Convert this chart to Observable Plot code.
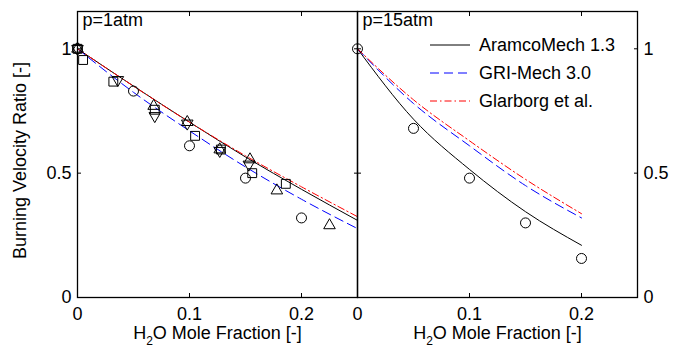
<!DOCTYPE html>
<html><head><meta charset="utf-8">
<script src="https://cdn.jsdelivr.net/npm/d3@7"></script>
<script src="https://cdn.jsdelivr.net/npm/@observablehq/plot@0.6"></script>
<style>body{margin:0;background:#fff} #chart{width:673px;height:356px}</style>
</head><body><div id="chart"></div>
<script>
// ---- data ----
const panels = ["1atm", "15atm"];
const panelTitles = ["p=1atm", "p=15atm"];
const xTicks = [0, 0.1, 0.2];
const yTicks = [0, 0.5, 1];
const xLabel = "H2O Mole Fraction [-]";
const yLabel = "Burning Velocity Ratio [-]";
const modelNames = ["AramcoMech 1.3", "GRI-Mech 3.0", "Glarborg et al."];

// experiments, p = 1 atm
const circ1X = [0, 0.05, 0.1, 0.15, 0.2];
const circ1Y = [1, 0.83, 0.61, 0.48, 0.32];
const sq1X = [0, 0.005, 0.032, 0.069, 0.105, 0.128, 0.156, 0.186];
const sq1Y = [1, 0.955, 0.868, 0.755, 0.65, 0.595, 0.50, 0.457];
const triUp1X = [0, 0.068, 0.098, 0.127, 0.154, 0.178, 0.225];
const triUp1Y = [1, 0.77, 0.705, 0.595, 0.555, 0.43, 0.29];
const triDn1X = [0, 0.036, 0.069, 0.098, 0.127, 0.153];
const triDn1Y = [1, 0.875, 0.73, 0.70, 0.59, 0.535];
// experiments, p = 15 atm
const circ15X = [0, 0.05, 0.1, 0.15, 0.2];
const circ15Y = [1, 0.68, 0.48, 0.30, 0.157];

// models, p = 1 atm
const model1X = [0, 0.05, 0.1, 0.15, 0.2, 0.25];
const aramco1 = [1, 0.85, 0.705, 0.565, 0.435, 0.31];
const gri1 = [1, 0.825, 0.67, 0.525, 0.395, 0.277];
const glar1 = [1, 0.85, 0.705, 0.57, 0.445, 0.325];
// models, p = 15 atm
const model15X = [0, 0.05, 0.1, 0.15, 0.2];
const aramco15 = [1, 0.717, 0.515, 0.345, 0.21];
const gri15 = [1, 0.78, 0.61, 0.45, 0.32];
const glar15 = [1, 0.795, 0.63, 0.475, 0.337];

// ---- styles ----
const font = "'Liberation Sans', Arial, Helvetica, sans-serif";
const modelStyles = [
  {stroke: "black", strokeDasharray: null},
  {stroke: "#0000ff", strokeDasharray: "9,5"},
  {stroke: "#ff0000", strokeDasharray: "7,3,1.5,3"}
];

const rows = (p, xs, ys) => xs.map((x, i) => ({p, x, y: ys[i]}));
const modelRows = [
  [...rows(panels[0], model1X, aramco1), ...rows(panels[1], model15X, aramco15)],
  [...rows(panels[0], model1X, gri1), ...rows(panels[1], model15X, gri15)],
  [...rows(panels[0], model1X, glar1), ...rows(panels[1], model15X, glar15)]
];
const circRows = [...rows(panels[0], circ1X, circ1Y), ...rows(panels[1], circ15X, circ15Y)];
const sqRows = rows(panels[0], sq1X, sq1Y);
const upRows = rows(panels[0], triUp1X, triUp1Y);
const dnRows = rows(panels[0], triDn1X, triDn1Y);

const titleRows = panels.map((p, i) => ({p, t: panelTitles[i]}));
const xLabelRows = panels.map(p => ({p, t: xLabel}));
const yLabelRows = [{p: panels[0], t: yLabel}];

const fmt = d => String(d);
const blank = () => "";
const fs = 18;

const chart = Plot.plot({
  width: 673, height: 356,
  marginLeft: 77, marginRight: 36, marginTop: 11, marginBottom: 59,
  style: {fontFamily: font, fontSize: fs + "px", color: "black", background: "white", overflow: "visible"},
  fx: {domain: panels, padding: 0, axis: null, label: null},
  x: {domain: [0, 0.25], label: null},
  y: {domain: [0, 1.15], label: null},
  marks: [
    ...modelRows.map((d, i) => Plot.line(d, {fx: "p", x: "x", y: "y", curve: "monotone-x",
      stroke: modelStyles[i].stroke, strokeDasharray: modelStyles[i].strokeDasharray, strokeWidth: 1})),
    Plot.dot(circRows, {fx: "p", x: "x", y: "y", symbol: "circle", r: 5, stroke: "black", fill: "none", strokeWidth: 1}),
    Plot.dot(sqRows, {fx: "p", x: "x", y: "y", symbol: "square", r: 5, stroke: "black", fill: "none", strokeWidth: 1}),
    Plot.dot(upRows, {fx: "p", x: "x", y: "y", symbol: "triangle", r: 4.3, stroke: "black", fill: "none", strokeWidth: 1}),
    Plot.dot(dnRows, {fx: "p", x: "x", y: "y", symbol: "triangle", rotate: 180, r: 4.3, stroke: "black", fill: "none", strokeWidth: 1}),
    Plot.frame({stroke: "black", strokeWidth: 1.3}),
    Plot.axisX({anchor: "bottom", ticks: xTicks, tickSize: -4, tickPadding: 14, tickFormat: fmt, label: null, fontSize: fs}),
    Plot.axisX({anchor: "top", ticks: xTicks, tickSize: -4, tickFormat: blank, label: null}),
    Plot.axisY({anchor: "left", ticks: yTicks, tickSize: -4, tickPadding: 10, tickFormat: fmt, label: null, fontSize: fs}),
    Plot.axisY({anchor: "right", ticks: yTicks, tickSize: -4, tickPadding: 10, tickFormat: fmt, label: null, fontSize: fs}),
    Plot.axisY({anchor: "right", facetAnchor: "left", ticks: yTicks, tickSize: -4, tickFormat: blank, label: null}),
    Plot.axisY({anchor: "left", facetAnchor: "right", ticks: yTicks, tickSize: -4, tickFormat: blank, label: null}),
    Plot.text(titleRows, {fx: "p", text: "t", frameAnchor: "top-left", dx: 5, dy: 2, textAnchor: "start", lineAnchor: "top", fontSize: fs}),
    Plot.text(xLabelRows, {fx: "p", text: "t", frameAnchor: "bottom", dy: 36, textAnchor: "middle", lineAnchor: "middle", fontSize: fs}),
    Plot.text(yLabelRows, {fx: "p", text: "t", frameAnchor: "left", dx: -57, dy: 6, rotate: -90, textAnchor: "middle", lineAnchor: "middle", fontSize: fs})
  ]
});

document.getElementById("chart").appendChild(chart);

// subscript in x labels
const svg = d3.select(chart.tagName.toLowerCase() === "svg" ? chart : chart.querySelector("svg"));
svg.selectAll("text").filter(function() { return this.textContent === xLabel; }).each(function() {
  const t = d3.select(this);
  t.text(null);
  t.append("tspan").text("H");
  t.append("tspan").attr("font-size", "12px").attr("dy", 6).text("2");
  t.append("tspan").attr("dy", -6).text("O Mole Fraction [-]");
});

// legend inside the right panel
const lg = svg.append("g").attr("font-family", font).attr("font-size", fs).attr("text-anchor", "start");
modelNames.forEach((name, i) => {
  const y = 45 + i * 28;
  lg.append("line").attr("x1", 430).attr("x2", 470).attr("y1", y).attr("y2", y)
    .attr("stroke", modelStyles[i].stroke).attr("stroke-width", 1)
    .attr("stroke-dasharray", modelStyles[i].strokeDasharray);
  lg.append("text").attr("x", 479).attr("y", y).attr("dy", "0.35em").attr("fill", "black")
    .attr("text-anchor", "start").text(name);
});
</script>
</body></html>
